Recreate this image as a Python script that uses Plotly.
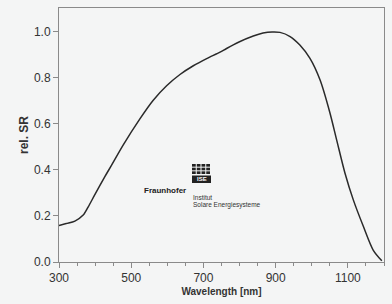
import plotly.graph_objects as go

wavelength_nm = [300, 320, 344, 367, 381, 400, 427, 446, 478, 524, 561, 598, 635, 672,
                 709, 746, 764, 797, 838, 865, 890, 912, 940, 967, 995, 1023, 1050,
                 1069, 1092, 1115, 1143, 1170, 1194]
rel_sr = [0.158, 0.167, 0.178, 0.204, 0.24, 0.295, 0.371, 0.422, 0.509, 0.622, 0.703,
          0.766, 0.815, 0.853, 0.884, 0.912, 0.928, 0.955, 0.982, 0.995, 1.0, 0.998,
          0.98, 0.943, 0.885, 0.791, 0.65, 0.53, 0.386, 0.27, 0.154, 0.052, 0.005]
x_ticks = [300, 500, 700, 900, 1100]
y_ticks = [0.0, 0.2, 0.4, 0.6, 0.8, 1.0]

W, H = 392, 304
L, R, T, B = 59, 384, 8, 262
BG = "#f4f5f5"
FONT = "Liberation Sans, Arial, sans-serif"

def px(x):
    return (x - L) / (R - L)

def py(y):
    return (B - y) / (B - T)

fig = go.Figure()
fig.add_trace(go.Scatter(x=wavelength_nm, y=rel_sr, mode="lines",
                         line=dict(color="#2a2a2a", width=1.5, shape="spline", smoothing=0.8),
                         hoverinfo="skip", showlegend=False))

axis_common = dict(showline=True, linecolor="#8a8a8a", linewidth=1, mirror=True,
                   showgrid=False, zeroline=False, ticks="outside", ticklen=5,
                   tickcolor="#8a8a8a", tickfont=dict(family=FONT, size=12, color="#333"))

fig.update_xaxes(range=[300, 1200], tickvals=x_ticks,
                 minor=dict(dtick=50, tick0=300, ticks="outside", ticklen=3, tickcolor="#8a8a8a"),
                 title=dict(text="<b>Wavelength [nm]</b>", font=dict(family=FONT, size=10, color="#333"),
                            standoff=3),
                 **axis_common)
fig.update_yaxes(range=[0, 1.104], tickvals=y_ticks, tickformat=".1f",
                 title=dict(text="<b>rel. SR</b>", font=dict(family=FONT, size=12, color="#333"),
                            standoff=2),
                 **axis_common)

shapes = []
# logo icon grid
gx0, gx1, gy0, gy1 = 192, 211, 164, 175
cols, rows = 4, 3
cw = (gx1 - gx0) / cols
rh = (gy1 - gy0) / rows
for i in range(cols):
    for j in range(rows):
        shapes.append(dict(type="rect", xref="paper", yref="paper",
                           x0=px(gx0 + i * cw), x1=px(gx0 + (i + 1) * cw - 1),
                           y0=py(gy0 + j * rh), y1=py(gy0 + (j + 1) * rh - 1),
                           fillcolor="#222", line=dict(width=0)))
shapes.append(dict(type="rect", xref="paper", yref="paper",
                   x0=px(192), x1=px(211), y0=py(175.5), y1=py(183),
                   fillcolor="#222", line=dict(width=0)))

annotations = [
    dict(text="<b>ISE</b>", x=px(201.5), y=py(179.3), xref="paper", yref="paper",
         showarrow=False, font=dict(family=FONT, size=6, color="white"),
         xanchor="center", yanchor="middle"),
    dict(text="<b>Fraunhofer</b>", x=px(188), y=py(190), xref="paper", yref="paper",
         showarrow=False, font=dict(family=FONT, size=8, color="#222"),
         xanchor="right", yanchor="middle"),
    dict(text="Institut", x=px(191), y=py(197.5), xref="paper", yref="paper",
         showarrow=False, font=dict(family=FONT, size=6.5, color="#333"),
         xanchor="left", yanchor="middle"),
    dict(text="Solare Energiesysteme", x=px(191), y=py(205), xref="paper", yref="paper",
         showarrow=False, font=dict(family=FONT, size=6.5, color="#333"),
         xanchor="left", yanchor="middle"),
]

fig.update_layout(width=W, height=H, margin=dict(l=L, r=W - R, t=T, b=H - B),
                  paper_bgcolor=BG, plot_bgcolor=BG, shapes=shapes,
                  annotations=annotations, showlegend=False)

fig.write_html("out.html", config={"displayModeBar": False},
               post_script="document.body.style.margin='0';document.body.style.background='%s';" % BG)
